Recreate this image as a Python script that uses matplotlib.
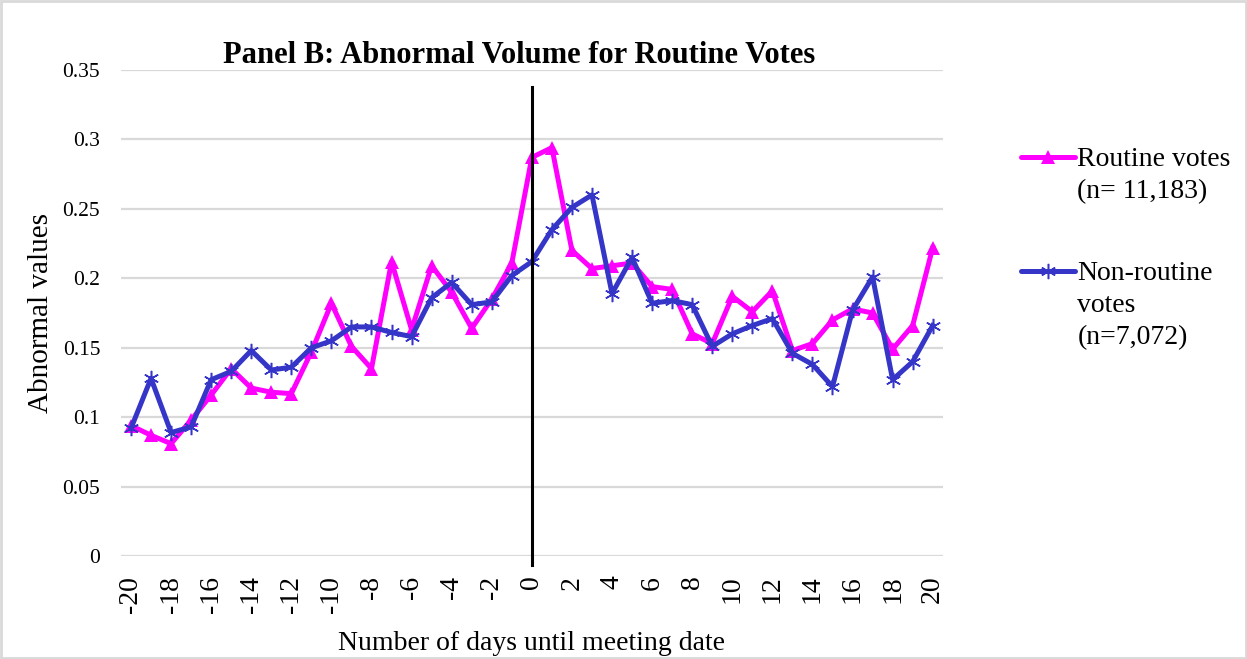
import matplotlib
matplotlib.use("Agg")
import matplotlib.pyplot as plt
from matplotlib.lines import Line2D
from matplotlib.patches import Rectangle

days = list(range(-20, 21))
routine = [0.094, 0.087, 0.081, 0.098, 0.116, 0.135, 0.121, 0.118, 0.117, 0.147,
           0.182, 0.151, 0.135, 0.212, 0.163, 0.209, 0.190, 0.164, 0.185, 0.211,
           0.287, 0.294, 0.220, 0.207, 0.209, 0.211, 0.194, 0.192, 0.160, 0.153,
           0.187, 0.176, 0.191, 0.148, 0.153, 0.170, 0.178, 0.175, 0.149, 0.166, 0.222]
nonroutine = [0.092, 0.128, 0.089, 0.093, 0.127, 0.133, 0.148, 0.134, 0.136, 0.150,
              0.155, 0.165, 0.165, 0.161, 0.158, 0.186, 0.197, 0.181, 0.183, 0.202,
              0.212, 0.235, 0.251, 0.260, 0.189, 0.215, 0.182, 0.184, 0.181, 0.151,
              0.160, 0.166, 0.171, 0.146, 0.138, 0.122, 0.177, 0.201, 0.127, 0.140, 0.166]
yticks = [0, 0.05, 0.1, 0.15, 0.2, 0.25, 0.3, 0.35]
ytick_labels = ["0", "0.05", "0.1", "0.15", "0.2", "0.25", "0.3", "0.35"]
xticks = list(range(-20, 21, 2))
title = "Panel B: Abnormal Volume for Routine Votes"
routine_label = "Routine votes\n(n= 11,183)"
nonroutine_label = "Non-routine\nvotes\n(n=7,072)"

MAG = "#FF00FF"
BLUE = "#3535C8"
plt.rcParams['font.family'] = ['Liberation Serif', 'DejaVu Serif']

fig = plt.figure(figsize=(12.47, 6.59), dpi=100)
fig.patches.append(Rectangle((0.001, 0.001), 0.998, 0.997, transform=fig.transFigure,
                             fill=False, edgecolor="#D9D9D9", linewidth=2))
ax = fig.add_axes([0.097, 0.156, 0.659, 0.738])

ax.set_ylim(0, 0.35)
ax.set_xlim(-20.5, 20.5)
ax.set_yticks(yticks)
ax.set_yticklabels(ytick_labels, fontsize=15.5)
ax.set_xticks(xticks)
ax.set_xticklabels([str(x) for x in xticks], rotation=90, fontsize=20)
ax.tick_params(axis='both', length=0)
ax.tick_params(axis='y', pad=15)
ax.tick_params(axis='x', pad=14)
for s in ax.spines.values():
    s.set_visible(False)
ax.grid(axis='y', color="#D9D9D9", linewidth=1.6)
ax.set_axisbelow(True)

ax.plot(days, routine, color=MAG, linewidth=3.6, marker='^', markersize=10,
        markeredgewidth=0, zorder=3)
ax.plot(days, nonroutine, color=BLUE, linewidth=3.6, marker=(6, 2, 0), markersize=11,
        markeredgewidth=1.1, markeredgecolor=BLUE, zorder=4)

ax.plot([0, 0], [0.338, -0.0065], color="black", linewidth=2.2, zorder=5, clip_on=False)

ax.set_title(title, fontsize=22, fontweight='bold', pad=3, x=0.485)
ax.set_ylabel("Abnormal values", fontsize=21, labelpad=6)
ax.set_xlabel("Number of days until meeting date", fontsize=20, labelpad=13)

# legend drawn manually
def legend_entry(yl, color, marker, ms, mew, label):
    fig.add_artist(Line2D([0.819, 0.862], [yl, yl], transform=fig.transFigure,
                          color=color, linewidth=3.6, solid_capstyle='round'))
    fig.add_artist(Line2D([0.8405], [yl], transform=fig.transFigure, color=color,
                          marker=marker, markersize=ms, markeredgewidth=mew,
                          markeredgecolor=color, linestyle='none'))
    fig.text(0.864, yl + 0.015, label, fontsize=20, va='top', ha='left',
             linespacing=1.37)

legend_entry(1 - 157 / 659, MAG, '^', 10, 0, routine_label)
legend_entry(1 - 271 / 659, BLUE, (6, 2, 0), 11, 1.1, nonroutine_label)

fig.savefig("out.png", dpi=100)
